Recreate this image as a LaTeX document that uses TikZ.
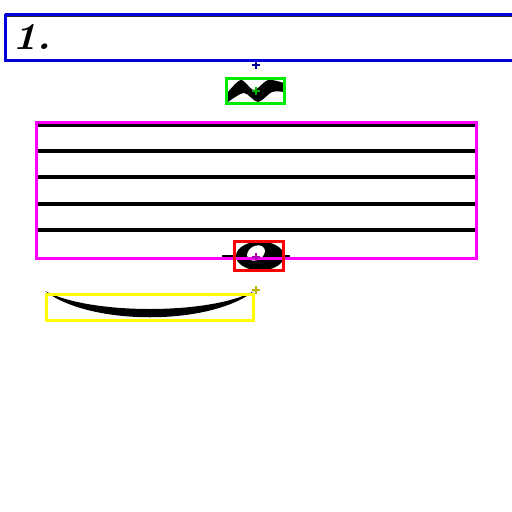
\documentclass[tikz,border=0pt]{standalone}
\begin{document}
\begin{tikzpicture}[x=1pt,y=-1pt,
  bbox/.style={line width=3pt},
  staffline/.style={line width=3.2pt,black},
  crossmark/.style={line width=2pt}]
\definecolor{olivey}{RGB}{190,180,0}
\definecolor{greenb}{RGB}{0,235,0}
\definecolor{blueb}{RGB}{0,0,220}
\definecolor{magb}{RGB}{255,0,255}
\definecolor{redb}{RGB}{255,0,0}
\definecolor{yelb}{RGB}{255,255,0}
\definecolor{darkmag}{RGB}{170,0,170}
\definecolor{darkblue}{RGB}{0,0,160}
\definecolor{darkgreen}{RGB}{0,180,0}
\useasboundingbox[fill=white] (0,0) rectangle (512,512);
% staff lines
\foreach \yy in {125,151,177,204,230}
  \draw[staffline] (37,\yy) -- (475,\yy);
% thin line under top of blue box
\draw[line width=1.2pt,black!85] (6,16.5) -- (512,16.5);
% fingering text
\node[anchor=west,inner sep=0pt,xscale=1.1,font=\fontsize{38}{38}\selectfont\bfseries\itshape] (fing) at (12,37) {1.};
% turn ornament
\fill[black] plot[smooth,tension=0.5] coordinates {(228,92) (241,80) (254,90) (268,80) (284,83)}
  -- plot[smooth,tension=0.5] coordinates {(284,92) (272,92) (258,102) (244,93) (228,102)} -- cycle;
% ledger line
\draw[line width=3pt,black] (222,256) -- (290,256);
% whole note
\fill[black] (260,256) ellipse [x radius=24, y radius=14.5];
\fill[white,rotate around={30:(256,253)}] (256,253) ellipse [x radius=9.5, y radius=7];
% slur
\fill[black] (45,291) .. controls (90,326) and (210,326) .. (254,291)
  .. controls (210,315) and (90,315) .. (45,291) -- cycle;
% boxes
\draw[bbox,blueb] (5,14) -- (515,14) (5,14) -- (5,60) -- (515,60);
\draw[bbox,greenb] (226.5,78.5) rectangle (284.5,103.5);
\draw[bbox,magb] (36.5,122.5) rectangle (476.5,258.5);
\draw[bbox,redb] (234.5,241.5) rectangle (283.5,270.5);
\draw[bbox,yelb] (46.5,294.5) rectangle (253.5,320.5);
% crosses
\foreach \cx/\cy/\cc in {256/65/darkblue,256/91/darkgreen,256/257/darkmag,256/290/olivey}
  \draw[crossmark,\cc] (\cx-4,\cy) -- (\cx+4,\cy) (\cx,\cy-4) -- (\cx,\cy+4);
\end{tikzpicture}
\end{document}
